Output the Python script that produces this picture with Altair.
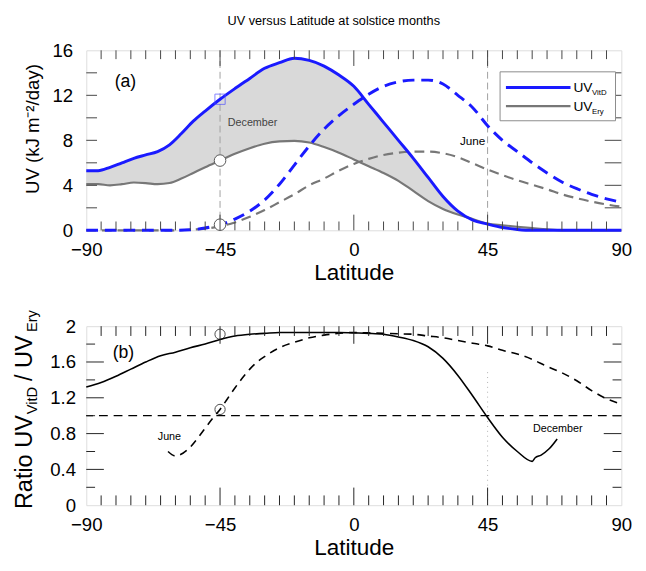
import altair as alt
import pandas as pd

# ---------------- data ----------------
dec_lat = [-90, -86, -82, -78, -74, -70, -66, -62, -58, -54, -50, -45, -40, -35, -30, -25, -20,
           -15, -10, -5, 0, 5, 10, 15, 20, 25, 30, 35, 40, 45, 50, 55, 60, 65, 70, 80, 90]
dec_vitd = [5.3, 5.3, 5.6, 6.0, 6.4, 6.7, 7.0, 7.6, 8.6, 9.7, 10.6, 11.65, 12.6, 13.5, 14.4, 14.9, 15.3,
            15.1, 14.6, 13.8, 12.8, 11.2, 9.6, 8.0, 6.4, 4.7, 3.0, 1.7, 0.9, 0.55, 0.25, 0.08, 0, 0, 0, 0, 0]
dec_ery = [4.1, 4.1, 4.0, 4.1, 4.25, 4.2, 4.1, 4.2, 4.6, 5.1, 5.6, 6.2, 6.8, 7.3, 7.7, 7.9, 7.95,
           7.8, 7.4, 6.9, 6.3, 5.7, 5.1, 4.4, 3.5, 2.6, 1.9, 1.4, 1.0, 0.6, 0.45, 0.32, 0.2, 0.08, 0, 0, 0]

jun_lat = [-90, -80, -70, -60, -55, -50, -45, -40, -35, -30, -25, -20, -15, -10, -5, 0, 5, 10,
           15, 20, 25, 30, 35, 40, 45, 50, 55, 60, 65, 70, 75, 80, 85, 90]
jun_vitd = [0, 0, 0, 0, 0.05, 0.2, 0.5, 1.0, 1.7, 2.7, 4.1, 5.8, 7.5, 9.0, 10.2, 11.2, 12.1, 12.8,
            13.2, 13.35, 13.35, 13.0, 12.0, 10.9, 9.3, 8.0, 7.0, 6.0, 5.1, 4.3, 3.7, 3.2, 2.8, 2.5]
jun_ery = [0, 0, 0, 0, 0.05, 0.15, 0.35, 0.7, 1.2, 1.8, 2.5, 3.2, 4.0, 4.6, 5.3, 5.9, 6.35, 6.7,
           6.9, 7.0, 7.0, 6.85, 6.5, 5.95, 5.4, 4.9, 4.45, 4.05, 3.65, 3.2, 2.85, 2.55, 2.3, 2.1]

rdec_lat = [-90, -85, -80, -75, -70, -65, -60, -55, -50, -45, -40, -35, -30, -25, -20, -15, -10, -5,
            0, 5, 10, 15, 20, 25, 30, 35, 40, 45, 50, 55, 60, 61, 63, 65.7, 68.4]
rdec_val = [1.32, 1.37, 1.44, 1.52, 1.60, 1.67, 1.71, 1.76, 1.80, 1.85, 1.89, 1.91, 1.92, 1.93, 1.93,
            1.93, 1.93, 1.93, 1.925, 1.92, 1.91, 1.88, 1.84, 1.77, 1.64, 1.45, 1.22, 0.98, 0.76, 0.60,
            0.49, 0.53, 0.56, 0.63, 0.74]

rjun_lat = [-62.5, -60, -57.5, -55, -52.5, -50, -47.5, -45, -42.5, -40, -37.5, -35, -32.5, -30, -25,
            -20, -15, -10, -5, 0, 5, 10, 15, 20, 25, 30, 35, 40, 45, 50, 55, 60, 65, 70, 75, 80, 85, 90]
rjun_val = [0.60, 0.55, 0.58, 0.65, 0.75, 0.86, 0.97, 1.07, 1.19, 1.31, 1.42, 1.52, 1.60, 1.66, 1.76,
            1.82, 1.87, 1.90, 1.92, 1.93, 1.925, 1.92, 1.915, 1.91, 1.89, 1.87, 1.84, 1.81, 1.78, 1.73,
            1.69, 1.63, 1.55, 1.48, 1.39, 1.28, 1.19, 1.13]

top_square = {"lat": [-45], "v": [11.65]}
top_circles = {"lat": [-45, -45], "v": [6.2, 0.5]}
bot_circles = {"lat": [-45, -45], "v": [1.91, 1.07]}
top_vlines = [-45, 45]
ratio_ref = [1.0]
bot_dotted = {"lat": [45], "y0": [0], "y1": [1.5]}

x_labels = [-90, -45, 0, 45, 90]
x_major_ticks = [-45, 0, 45]
x_minor_ticks = [v for v in range(-85, 90, 5) if v not in (-45, 0, 45)]
top_y_labels = [0, 4, 8, 12, 16]
top_y_ticks = [2, 4, 6, 8, 10, 12, 14]
bot_y_labels = [0, 0.4, 0.8, 1.2, 1.6, 2]
bot_y_major = [0.4, 0.8, 1.2, 1.6]
bot_y_minor = [0.2, 0.6, 1.0, 1.4, 1.8]

# ---------------- styles ----------------
FONT = "Liberation Sans"
BLUE = "#1a1aff"
GRAY = "#777777"
FILL = "#d9d9d9"
W, H1, H2 = 547, 184, 183
NB = "\u00a0"

xscale = alt.Scale(domain=[-90, 90], nice=False, zero=False)
xaxis = alt.Axis(values=x_labels, title="Latitude", tickSize=0, domain=False, grid=False,
                 labelFontSize=19, labelPadding=11, labelColor="black", labelFont=FONT,
                 titleFontSize=23, titleFontWeight="normal", titlePadding=2, titleColor="black",
                 titleFont=FONT, labelFlush=False)


def X(field="lat"):
    return alt.X(f"{field}:Q", scale=xscale, axis=xaxis)


ys1 = alt.Scale(domain=[0, 16], nice=False)
yaxis1 = alt.Axis(values=top_y_labels, title="UV (kJ m\u207b\u00b2/day)", tickSize=0, domain=False,
                  grid=False, labelFontSize=19, labelPadding=14, labelColor="black", labelFont=FONT,
                  titleFontSize=19, titleFontWeight="normal", titleColor="black", titleFont=FONT,
                  titleX=-55, titleY=80, titleAlign="center", titleBaseline="middle")


def Y1(field="v"):
    return alt.Y(f"{field}:Q", scale=ys1, axis=yaxis1)


ys2 = alt.Scale(domain=[0, 2], nice=False)
yaxis2 = alt.Axis(values=bot_y_labels, title=None, format="~g", tickSize=0, domain=False,
                  grid=False, labelFontSize=19, labelPadding=11, labelColor="black", labelFont=FONT)


def Y2(field="v"):
    return alt.Y(f"{field}:Q", scale=ys2, axis=yaxis2)


one = pd.DataFrame({"a": [0]})


def txt(s, x, y, size, color="black", align="left", baseline="alphabetic", angle=0):
    kw = dict(text=s, fontSize=size, color=color, align=align, baseline=baseline, font=FONT)
    if angle:
        kw["angle"] = angle
    return alt.Chart(one).mark_text(**kw).encode(x=alt.value(x), y=alt.value(y))


def xtick_layers(H, minor_len, major_len, color):
    out = []
    for vals, ln in ((x_minor_ticks, minor_len), (x_major_ticks, major_len)):
        df = pd.DataFrame({"lat": vals})
        out.append(alt.Chart(df).mark_rule(color=color, strokeWidth=1).encode(
            x=X(), y=alt.value(H), y2=alt.value(H - ln)))
        out.append(alt.Chart(df).mark_rule(color=color, strokeWidth=1).encode(
            x=X(), y=alt.value(0), y2=alt.value(ln)))
    return out


def ytick_layers(vals, Yf, left_len, right_len, color):
    df = pd.DataFrame({"v": vals})
    return [
        alt.Chart(df).mark_rule(color=color, strokeWidth=1).encode(
            y=Yf(), x=alt.value(0), x2=alt.value(left_len)),
        alt.Chart(df).mark_rule(color=color, strokeWidth=1).encode(
            y=Yf(), x=alt.value(W), x2=alt.value(W - right_len)),
    ]


# ---------------- top panel ----------------
dec_df = pd.DataFrame({"lat": dec_lat, "vitd": dec_vitd, "ery": dec_ery})
jun_df = pd.DataFrame({"lat": jun_lat, "vitd": jun_vitd, "ery": jun_ery})

area = alt.Chart(dec_df).mark_area(color=FILL, interpolate="monotone").encode(
    x=X(), y=Y1("vitd"), y2="ery")
vlines = alt.Chart(pd.DataFrame({"lat": top_vlines})).mark_rule(
    color="#a0a0a0", strokeDash=[7, 4], strokeWidth=1).encode(x=X())
l_dec_ery = alt.Chart(dec_df).mark_line(color=GRAY, strokeWidth=2.2, interpolate="monotone").encode(
    x=X(), y=Y1("ery"))
l_jun_ery = alt.Chart(jun_df).mark_line(color=GRAY, strokeWidth=2.2, strokeDash=[10, 6],
                                         interpolate="monotone").encode(x=X(), y=Y1("ery"))
l_dec_vitd = alt.Chart(dec_df).mark_line(color=BLUE, strokeWidth=3, interpolate="monotone").encode(
    x=X(), y=Y1("vitd"))
l_jun_vitd = alt.Chart(jun_df).mark_line(color=BLUE, strokeWidth=3, strokeDash=[12, 7],
                                          interpolate="monotone").encode(x=X(), y=Y1("vitd"))
sq = alt.Chart(pd.DataFrame(top_square)).mark_point(shape="square", size=110, filled=False,
                                                     color="#5050ff", strokeWidth=1).encode(x=X(), y=Y1())
circ = alt.Chart(pd.DataFrame(top_circles)).mark_point(shape="circle", size=140, filled=True,
                                                        fill="white", stroke="#555", strokeWidth=1,
                                                        opacity=1).encode(x=X(), y=Y1())

legend_box = alt.Chart(one).mark_rect(fill="white", stroke="#8a8a8a", strokeWidth=1).encode(
    x=alt.value(423), x2=alt.value(541), y=alt.value(22), y2=alt.value(72))
leg_l1 = alt.Chart(one).mark_rule(color=BLUE, strokeWidth=3).encode(
    x=alt.value(429), x2=alt.value(495), y=alt.value(38))
leg_l2 = alt.Chart(one).mark_rule(color=GRAY, strokeWidth=2.2).encode(
    x=alt.value(429), x2=alt.value(495), y=alt.value(57))

top_layers = ([area, vlines, l_jun_ery, l_dec_ery, l_jun_vitd, l_dec_vitd, sq, circ]
              + xtick_layers(H1, 9, 16, "#444")
              + ytick_layers(top_y_ticks, Y1, 11, 17, "#444")
              + [legend_box, leg_l1, leg_l2,
                 txt("UV", 498, 43, 14), txt("VitD", 517, 46, 8),
                 txt("UV", 498, 62, 14), txt("Ery", 517, 65, 8),
                 txt("(a)", 40, 32, 18, align="center", baseline="middle"),
                 txt("December", 170, 74, 11, color="#444", align="center", baseline="middle"),
                 txt("June", 395, 93, 12, align="center", baseline="middle"),
                 txt("UV versus Latitude at solstice months", 253, -30, 13, align="center",
                     baseline="middle")])
top = alt.layer(*top_layers).properties(width=W, height=H1)

# ---------------- bottom panel ----------------
rdec_df = pd.DataFrame({"lat": rdec_lat, "v": rdec_val})
rjun_df = pd.DataFrame({"lat": rjun_lat, "v": rjun_val})

ref = alt.Chart(pd.DataFrame({"v": ratio_ref})).mark_rule(color="black", strokeDash=[9, 6],
                                                          strokeWidth=1.2).encode(y=Y2())
dotted = alt.Chart(pd.DataFrame(bot_dotted)).mark_rule(color="#b0b0b0", strokeDash=[1, 4],
                                                       strokeWidth=1).encode(x=X(), y=Y2("y0"), y2="y1")
r_dec = alt.Chart(rdec_df).mark_line(color="black", strokeWidth=1.6, interpolate="monotone").encode(
    x=X(), y=Y2())
r_jun = alt.Chart(rjun_df).mark_line(color="black", strokeWidth=1.6, strokeDash=[8, 6],
                                     interpolate="monotone").encode(x=X(), y=Y2())
bcirc = alt.Chart(pd.DataFrame(bot_circles)).mark_point(shape="circle", size=110, filled=False,
                                                         color="black", strokeWidth=1).encode(x=X(), y=Y2())

bot_layers = ([dotted, ref, r_jun, r_dec, bcirc]
              + xtick_layers(H2, 10, 18, "#222")
              + ytick_layers(bot_y_minor, Y2, 9, 9, "#222")
              + ytick_layers(bot_y_major, Y2, 18, 18, "#222")
              + [txt("(b)", 38, 28, 18, align="center", baseline="middle"),
                 txt("June", 85, 113, 11, align="center", baseline="middle"),
                 txt("December", 482, 105, 11, align="center", baseline="middle"),
                 txt("Ratio UV", -55, 187, 24, angle=270),
                 txt("VitD", -50, 90, 15, angle=270),
                 txt("/" + NB + "UV", -55, 56, 24, angle=270),
                 txt("Ery", -50, 6, 15, angle=270)])
bottom = alt.layer(*bot_layers).properties(width=W, height=H2)

chart = alt.vconcat(top, bottom, spacing=25).properties(
    padding={"left": 5, "top": 0, "right": 5, "bottom": 5}
).configure_view(stroke="#444", strokeWidth=1).configure(font=FONT)

chart.save("out.html", embed_options={"renderer": "svg", "actions": False})
